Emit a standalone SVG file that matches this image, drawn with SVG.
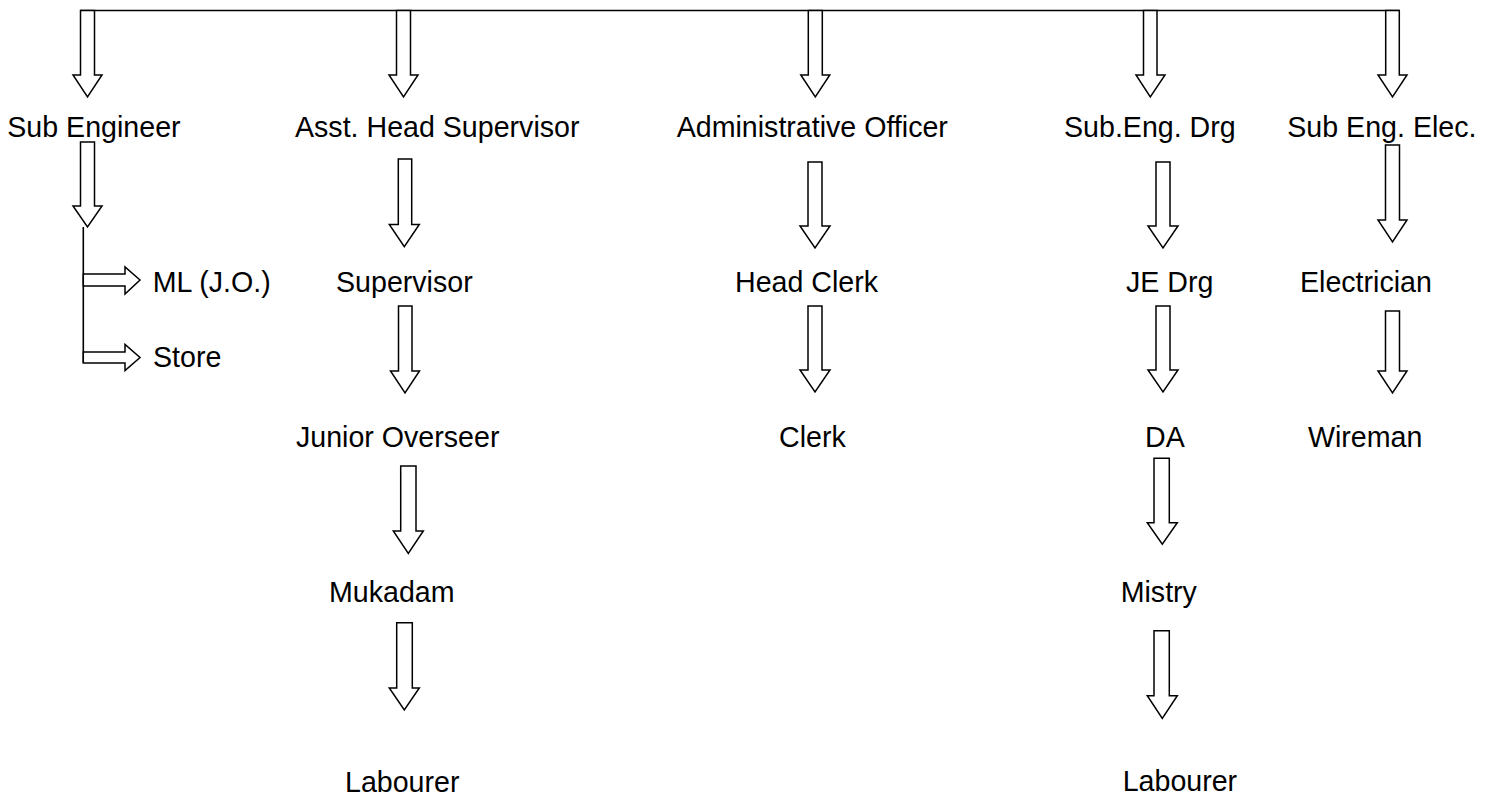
<svg xmlns="http://www.w3.org/2000/svg" width="1499" height="799" viewBox="0 0 1499 799">
<style>
.t{font-family:"Liberation Sans",Arial,sans-serif;font-size:28.6px;fill:#000}
.a{fill:#fff;stroke:#000;stroke-width:1.5;stroke-linejoin:miter}
.l{fill:none;stroke:#000;stroke-width:1.6}
</style>
<rect width="1499" height="799" fill="#fff"/>
<g id="connectors">
<path class="l" d="M80 10.5 H1399.5"/>
<path class="l" d="M83.3 227 V363"/>
<!-- top arrows -->
<path class="a" d="M80.5 10.5 H94.5 V75 H102 L87.5 97 L73 75 H80.5 Z"/>
<path class="a" d="M396.5 10.5 H410.5 V75 H418 L403.5 97 L389 75 H396.5 Z"/>
<path class="a" d="M808.3 10.5 H822.3 V75 H829.8 L815.3 97 L800.8 75 H808.3 Z"/>
<path class="a" d="M1143.5 10.5 H1157 V75 H1165 L1150.3 97 L1136 75 H1143.5 Z"/>
<path class="a" d="M1385.7 10.5 H1399.3 V75 H1407 L1392.5 97 L1378 75 H1385.7 Z"/>
<!-- col1 -->
<path class="a" d="M80.5 142 H94.5 V206 H102 L87.5 227 L73 206 H80.5 Z"/>
<path class="a" d="M83.3 274 H125 V267 L140 280 L125 294 V286 H83.3 Z"/>
<path class="a" d="M83.3 352 H125 V344.5 L140 357.5 L125 370.5 V363 H83.3 Z"/>
<!-- col2 -->
<path class="a" d="M398.3 159 H411.7 V224.5 H419.3 L404.3 246.7 L389.3 224.5 H398.3 Z"/>
<path class="a" d="M398.5 306 H412 V371 H419.5 L405 393 L390.5 371 H398.5 Z"/>
<path class="a" d="M400.7 466 H416 V531 H423.3 L408.3 553.3 L393.3 531 H400.7 Z"/>
<path class="a" d="M396.7 622.7 H412.3 V688 H419.3 L404.3 710 L389.3 688 H396.7 Z"/>
<!-- col3 -->
<path class="a" d="M808 162 H822 V226 H830 L815 248 L800 226 H808 Z"/>
<path class="a" d="M808 306 H822 V370 H830 L815 392 L800 370 H808 Z"/>
<!-- col4 -->
<path class="a" d="M1156 162 H1170 V226 H1178 L1163 248 L1148 226 H1156 Z"/>
<path class="a" d="M1156 306 H1170 V370 H1178 L1163 392 L1148 370 H1156 Z"/>
<path class="a" d="M1154 458.3 H1169.3 V522.7 H1177.3 L1162.3 544.3 L1147.3 522.7 H1154 Z"/>
<path class="a" d="M1154 630.7 H1169.3 V695.7 H1177.3 L1162.3 718.3 L1147.3 695.7 H1154 Z"/>
<!-- col5 -->
<path class="a" d="M1385.5 145 H1399.5 V220 H1407 L1392.5 242 L1378 220 H1385.5 Z"/>
<path class="a" d="M1385.5 311 H1399.5 V371 H1407 L1392.5 393 L1378 371 H1385.5 Z"/>
</g>
<g id="n-sub-engineer"><text class="t" x="7.3" y="136.5">Sub Engineer</text></g>
<g id="n-asst-head-supervisor"><text class="t" x="295" y="136.5">Asst. Head Supervisor</text></g>
<g id="n-admin-officer"><text class="t" x="676.7" y="136.5">Administrative Officer</text></g>
<g id="n-sub-eng-drg"><text class="t" x="1064" y="136.5">Sub.Eng. Drg</text></g>
<g id="n-sub-eng-elec"><text class="t" x="1287.3" y="136.5">Sub Eng. Elec.</text></g>
<g id="n-ml"><text class="t" x="152.7" y="291.7">ML (J.O.)</text></g>
<g id="n-store"><text class="t" x="153" y="367">Store</text></g>
<g id="n-supervisor"><text class="t" x="336" y="291.7">Supervisor</text></g>
<g id="n-head-clerk"><text class="t" x="735" y="291.7">Head Clerk</text></g>
<g id="n-je-drg"><text class="t" x="1126" y="291.7">JE Drg</text></g>
<g id="n-electrician"><text class="t" x="1300" y="291.7">Electrician</text></g>
<g id="n-junior-overseer"><text class="t" x="296" y="446.7">Junior Overseer</text></g>
<g id="n-clerk"><text class="t" x="779" y="446.7">Clerk</text></g>
<g id="n-da"><text class="t" x="1145" y="446.7">DA</text></g>
<g id="n-wireman"><text class="t" x="1308" y="446.7">Wireman</text></g>
<g id="n-mukadam"><text class="t" x="329" y="601.7">Mukadam</text></g>
<g id="n-mistry"><text class="t" x="1120.7" y="601.7">Mistry</text></g>
<g id="n-labourer-1"><text class="t" x="345" y="791.7">Labourer</text></g>
<g id="n-labourer-2"><text class="t" x="1122.7" y="790.5">Labourer</text></g>
</svg>
